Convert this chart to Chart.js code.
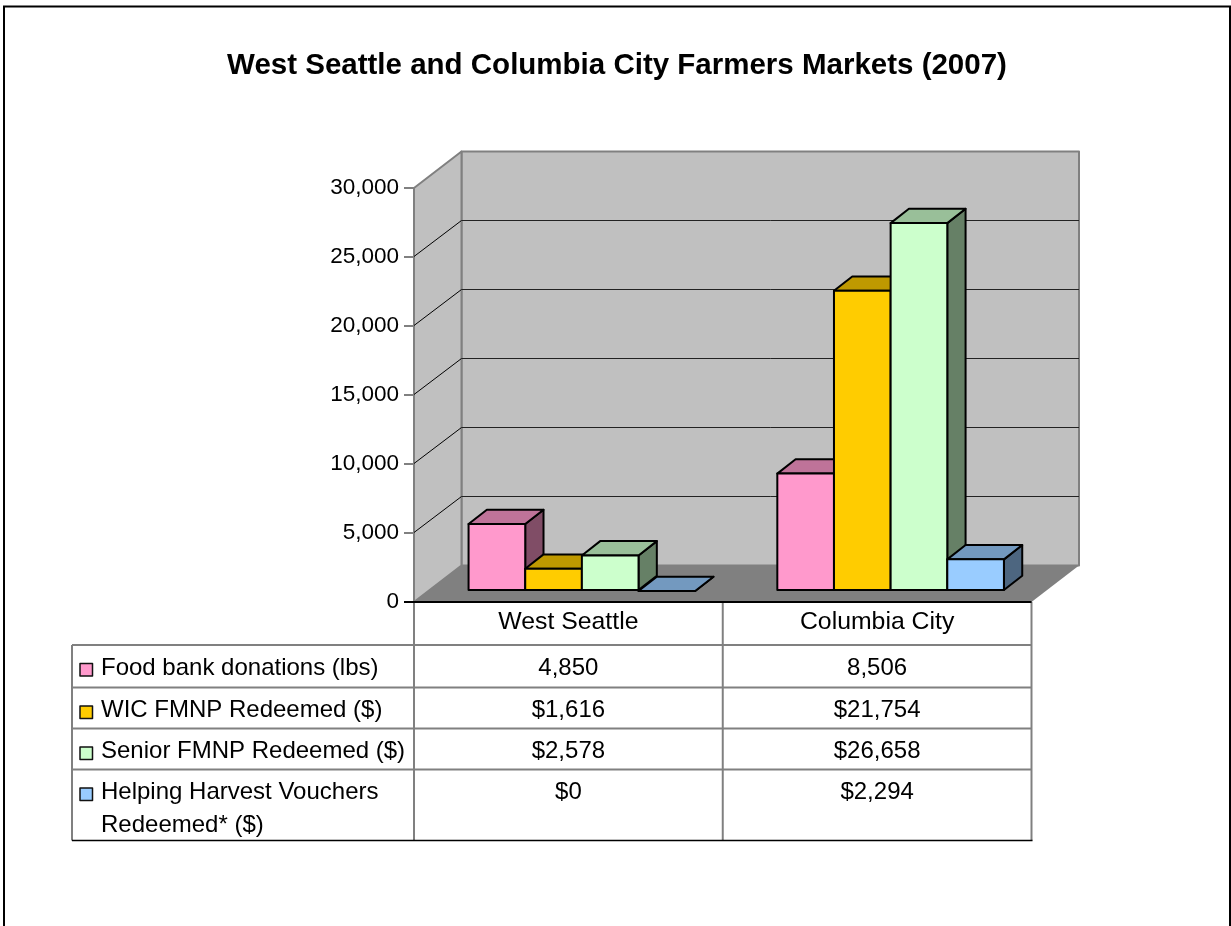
<!DOCTYPE html>
<html>
<head>
<meta charset="utf-8">
<title>West Seattle and Columbia City Farmers Markets (2007)</title>
<script src="https://cdn.jsdelivr.net/npm/chart.js@4/dist/chart.umd.min.js"></script>
<style>
  html, body { margin: 0; padding: 0; background: #fff; }
  canvas { display: block; }
</style>
</head>
<body>
<canvas id="myChart" width="1231" height="926"></canvas>
<script>
const titleText = 'West Seattle and Columbia City Farmers Markets (2007)';
const categories = ['West Seattle', 'Columbia City'];
const seriesNames = ['Food bank donations (lbs)', 'WIC FMNP Redeemed ($)', 'Senior FMNP Redeemed ($)', 'Helping Harvest Vouchers Redeemed* ($)'];
const seriesPrefix = ['', '$', '$', '$'];
const foodBank = [4850, 8506];
const wicFmnp = [1616, 21754];
const seniorFmnp = [2578, 26658];
const helpingHarvest = [0, 2294];
const seriesColors = [[255, 153, 204], [255, 204, 0], [204, 255, 204], [153, 204, 255]];

const FONT = '"Liberation Sans", Arial, sans-serif';
const rgb = (c, k) => `rgb(${Math.round(c[0] * k)},${Math.round(c[1] * k)},${Math.round(c[2] * k)})`;

// 3D look: how far the walls go back, where the bars stand, how deep they are
const WALL = { dx: 47.5, dy: -36.5 };
const BAR_SHIFT = { dx: 13.5, dy: -11 };
const BAR_DEPTH = { dx: 18.3, dy: -14.3 };

function poly(ctx, pts, fill, stroke, lw) {
  ctx.beginPath();
  pts.forEach((p, i) => i ? ctx.lineTo(p[0], p[1]) : ctx.moveTo(p[0], p[1]));
  ctx.closePath();
  if (fill) { ctx.fillStyle = fill; ctx.fill(); }
  if (stroke) { ctx.strokeStyle = stroke; ctx.lineWidth = lw; ctx.lineJoin = 'round'; ctx.stroke(); }
}

function line(ctx, x1, y1, x2, y2, color, lw) {
  ctx.beginPath();
  ctx.moveTo(x1, y1);
  ctx.lineTo(x2, y2);
  ctx.strokeStyle = color;
  ctx.lineWidth = lw;
  ctx.stroke();
}

// Page frame, walls, floor and the data table under the plot
const backdrop = {
  id: 'backdrop',
  beforeDraw(chart) {
    const { ctx, chartArea: a, scales: { y } } = chart;
    const d = WALL;
    ctx.save();

    // frame has no bottom edge, it runs off the picture
    ctx.beginPath();
    ctx.moveTo(4, 930); ctx.lineTo(4, 6.5); ctx.lineTo(1230, 6.5); ctx.lineTo(1230, 930);
    ctx.strokeStyle = '#000';
    ctx.lineWidth = 2;
    ctx.stroke();

    poly(ctx, [[a.left + d.dx, a.top + d.dy], [a.right + d.dx, a.top + d.dy], [a.right + d.dx, a.bottom + d.dy], [a.left + d.dx, a.bottom + d.dy]], '#c0c0c0', '#808080', 2);
    poly(ctx, [[a.left, a.top], [a.left + d.dx, a.top + d.dy], [a.left + d.dx, a.bottom + d.dy], [a.left, a.bottom]], '#c0c0c0', '#808080', 2);
    poly(ctx, [[a.left, a.bottom], [a.left + d.dx, a.bottom + d.dy], [a.right + d.dx, a.bottom + d.dy], [a.right, a.bottom]], '#808080');

    y.ticks.forEach((t, i) => {
      if (t.value === 0 || t.value === y.max) return;
      const py = Math.round(y.getPixelForTick(i)) - 0.5;
      const by = Math.round(py + d.dy) + 0.5;
      line(ctx, a.left, py, a.left + d.dx, by, '#000', 1);
      line(ctx, a.left + d.dx, by, a.right + d.dx, by, '#222', 1);
    });

    drawTable(chart);
    ctx.restore();
  },
  afterDraw(chart) {
    const { ctx, chartArea: a } = chart;
    line(ctx, a.left - 10, a.bottom, a.right, a.bottom, '#000', 2);
  },
  // Excel paints the series left to right, Chart.js the other way round,
  // so take over the dataset pass and add the top and side faces on the way
  beforeDatasetsDraw(chart) {
    const { ctx } = chart;
    const d = BAR_DEPTH;
    ctx.save();
    ctx.translate(BAR_SHIFT.dx, BAR_SHIFT.dy);
    chart.getSortedVisibleDatasetMetas().forEach(meta => {
      const c = seriesColors[meta.index];
      meta.data.forEach(bar => {
        const { x, y, base, width } = bar.getProps(['x', 'y', 'base', 'width'], true);
        const l = x - width / 2, r = x + width / 2;
        poly(ctx, [[r, y], [r + d.dx, y + d.dy], [r + d.dx, base + d.dy], [r, base]], rgb(c, 0.5), '#000', 2);
        poly(ctx, [[l, y], [l + d.dx, y + d.dy], [r + d.dx, y + d.dy], [r, y]], rgb(c, 0.75), '#000', 2);
      });
      meta.controller.draw();
      // outline centred on the bar edge, a Chart.js border would sit inside it
      meta.data.forEach(bar => {
        const { x, y, base, width } = bar.getProps(['x', 'y', 'base', 'width'], true);
        const l = x - width / 2, r = x + width / 2;
        poly(ctx, [[l, y], [r, y], [r, base], [l, base]], null, '#000', 2);
      });
    });
    ctx.restore();
    return false;
  }
};

function wrapLabel(ctx, text, maxWidth) {
  const lines = [];
  let cur = '';
  text.split(' ').forEach(w => {
    const next = cur ? cur + ' ' + w : w;
    if (ctx.measureText(next).width > maxWidth && cur) { lines.push(cur); cur = w; } else cur = next;
  });
  lines.push(cur);
  return lines;
}

function drawTable(chart) {
  const { ctx, chartArea: a, scales: { x } } = chart;
  const rowLines = [645, 687.5, 728.5, 769.5, 840.5];
  const left = 72;
  const mid = (x.getPixelForValue(0) + x.getPixelForValue(1)) / 2;

  // rules
  line(ctx, a.left, a.bottom, a.left, rowLines[4], '#808080', 2);
  line(ctx, mid, a.bottom, mid, rowLines[4], '#808080', 2);
  line(ctx, a.right, a.bottom, a.right, rowLines[4], '#808080', 2);
  line(ctx, left, rowLines[0], left, rowLines[4], '#808080', 2);
  rowLines.slice(0, 4).forEach(ry => line(ctx, left, ry, a.right, ry, '#808080', 2));
  line(ctx, left, rowLines[4], a.right + 1, rowLines[4], '#000', 1.5);

  ctx.font = '24px ' + FONT;
  ctx.textBaseline = 'alphabetic';
  chart.data.datasets.forEach((ds, i) => {
    const base = rowLines[i] + 29.5;
    poly(ctx, [[80, base - 11], [92.5, base - 11], [92.5, base + 1.5], [80, base + 1.5]], ds.backgroundColor, '#111', 1.5);
    ctx.fillStyle = '#000';
    ctx.textAlign = 'left';
    wrapLabel(ctx, ds.label, 310).forEach((t, j) => ctx.fillText(t, 101, base + j * 32.5));
    ctx.textAlign = 'center';
    ds.data.forEach((v, j) => {
      ctx.fillText(seriesPrefix[i] + v.toLocaleString('en-US'), x.getPixelForValue(j), base);
    });
  });
}

const ctx = document.getElementById('myChart').getContext('2d');
new Chart(ctx, {
  type: 'bar',
  data: {
    labels: categories,
    datasets: [foodBank, wicFmnp, seniorFmnp, helpingHarvest].map((values, i) => ({
      label: seriesNames[i],
      data: values,
      backgroundColor: rgb(seriesColors[i], 1),
      borderWidth: 0,
      categoryPercentage: 0.734,
      barPercentage: 1
    }))
  },
  options: {
    responsive: false,
    animation: false,
    devicePixelRatio: 1,
    layout: { padding: { left: 3 } },
    plugins: {
      legend: { display: false },
      tooltip: { enabled: false },
      title: {
        display: true,
        text: titleText,
        color: '#000',
        font: { family: FONT, size: 29.5, weight: 'bold' },
        padding: { top: 48, bottom: 104.6 }
      }
    },
    scales: {
      x: {
        grid: { display: false, tickLength: 0 },
        border: { display: false },
        ticks: { color: '#000', font: { family: FONT, size: 24.8 }, padding: 5.5, maxRotation: 0 },
        afterFit: s => { s.height = 926 - 602; }
      },
      y: {
        min: 0,
        max: 30000,
        grid: { drawOnChartArea: false, color: '#808080', tickLength: 10, lineWidth: 2 },
        border: { display: false },
        ticks: { stepSize: 5000, color: '#000', font: { family: FONT, size: 22.5 }, padding: 5 },
        afterFit: s => { s.width = 411; }
      },
      // empty box that keeps the plot off the right side without moving the title
      spacer: {
        position: 'right',
        ticks: { display: false },
        grid: { display: false },
        border: { display: false },
        afterFit: s => { s.width = 199.5; }
      }
    }
  },
  plugins: [backdrop]
});
</script>
</body>
</html>
